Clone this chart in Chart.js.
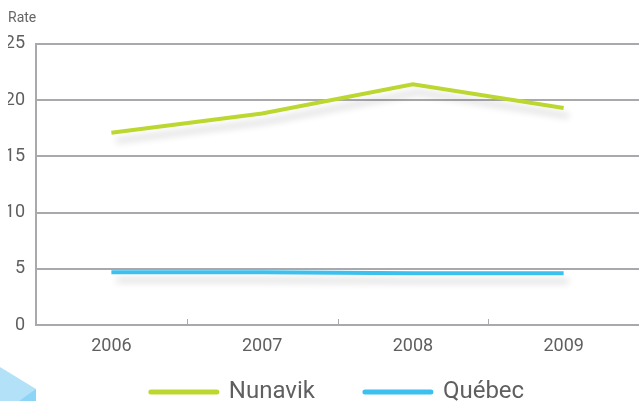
<!DOCTYPE html>
<html>
<head>
<meta charset="utf-8">
<script src="https://cdn.jsdelivr.net/npm/chart.js@4"></script>
<style>
  html,body{margin:0;padding:0;background:#fff;}
  #wrap{width:639px;height:401px;position:relative;}
</style>
</head>
<body>
<div id="wrap"><canvas id="chart" width="639" height="401"></canvas></div>
<script>
// Data
const years = ["2006","2007","2008","2009"];
const nunavik = [17.1, 18.8, 21.4, 19.3];
const quebec = [4.7, 4.7, 4.6, 4.6];
const yTicks = [0, 5, 10, 15, 20, 25];
const seriesNames = ["Nunavik","Québec"];
const seriesColors = ["#bdd731","#3cc0ed"];

const FONT = "'Roboto', sans-serif";
const TEXT = "#5f5f62";
const GRID = "#a9a9ad";

// soft shadow under the lines
const shadowPlugin = {
  id:"shadow",
  beforeDatasetDraw(chart){
    const ctx = chart.ctx;
    ctx.save();
    ctx.shadowColor = "rgba(0,0,0,0.16)";
    ctx.shadowBlur = 7;
    ctx.shadowOffsetX = 5;
    ctx.shadowOffsetY = 8;
  },
  afterDatasetDraw(chart){
    chart.ctx.restore();
  }
};

// small inner ticks between categories + corner decoration
const extrasPlugin = {
  id:"extras",
  afterDraw(chart){
    const ctx = chart.ctx;
    const x = chart.scales.x;
    const bottom = chart.chartArea.bottom;
    ctx.save();
    ctx.strokeStyle = GRID;
    ctx.lineWidth = 1;
    for(let i=0;i<years.length-1;i++){
      const px = Math.round((x.getPixelForValue(i)+x.getPixelForValue(i+1))/2)+0.5;
      ctx.beginPath();
      ctx.moveTo(px,bottom);
      ctx.lineTo(px,bottom-6);
      ctx.stroke();
    }
    // decoration bottom-left
    ctx.fillStyle = "#b3e1f8";
    ctx.beginPath();
    ctx.moveTo(0,367); ctx.lineTo(36,389); ctx.lineTo(36,401); ctx.lineTo(0,401);
    ctx.closePath(); ctx.fill();
    ctx.fillStyle = "#8dd5f6";
    ctx.beginPath();
    ctx.moveTo(36,389); ctx.lineTo(36,401); ctx.lineTo(19,401);
    ctx.closePath(); ctx.fill();
    ctx.restore();
  }
};

new Chart(document.getElementById("chart"),{
  type:"line",
  data:{
    labels:years,
    datasets:[
      {label:seriesNames[0],data:nunavik,borderColor:seriesColors[0],backgroundColor:seriesColors[0],borderWidth:4,pointRadius:0,tension:0},
      {label:seriesNames[1],data:quebec,borderColor:seriesColors[1],backgroundColor:seriesColors[1],borderWidth:4,pointRadius:0,tension:0}
    ]
  },
  options:{
    responsive:false,
    animation:false,
    layout:{padding:{left:8,right:0,top:0,bottom:-13}},
    plugins:{
      tooltip:{enabled:false},
      title:{
        display:true,text:"Rate",align:"start",color:"#666",
        font:{family:FONT,size:14,weight:"normal"},padding:{top:10,bottom:17}
      },
      legend:{
        position:"bottom",
        fullSize:false,
        labels:{
          color:TEXT,font:{family:FONT,size:24},
          usePointStyle:true,pointStyleWidth:66,boxHeight:4,padding:1,
          generateLabels(chart){
            return chart.data.datasets.map((ds,i)=>({
              text: i===0 ? ds.label+"\u2003\u2003" : ds.label,
              fillStyle: ds.borderColor,
              strokeStyle: ds.borderColor,
              fontColor: TEXT,
              lineWidth: 5,
              lineCap: "round",
              pointStyle: "line",
              datasetIndex: i
            }));
          }
        }
      }
    },
    scales:{
      x:{
        offset:true,
        grid:{display:false},
        border:{display:true,color:GRID,width:2},
        ticks:{color:TEXT,font:{family:FONT,size:18},padding:3},
        afterFit(axis){ axis.height = 54; }
      },
      y:{
        min:0,max:25,
        afterBuildTicks(axis){ axis.ticks = yTicks.map(v=>({value:v})); },
        afterFit(axis){ axis.width = 28; },
        grid:{color:GRID,lineWidth:2,drawTicks:false},
        border:{display:true,color:GRID,width:2},
        ticks:{color:TEXT,font:{family:FONT,size:18},padding:11}
      }
    }
  },
  plugins:[shadowPlugin,extrasPlugin]
});
</script>
</body>
</html>
